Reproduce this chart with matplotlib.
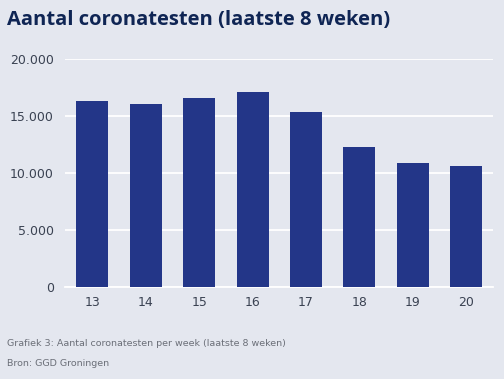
import matplotlib.pyplot as plt
from matplotlib.ticker import FuncFormatter

# --- data ---
weeks = ["13", "14", "15", "16", "17", "18", "19", "20"]
tests = [16310, 16020, 16550, 17100, 15320, 12310, 10880, 10650]
yticks = [0, 5000, 10000, 15000, 20000]

BG = "#e4e7ef"
BAR = "#233688"
NAVY = "#0f2554"
TXT = "#3a4252"

fig = plt.figure(figsize=(5.04, 3.79), dpi=100, facecolor=BG)
ax = fig.add_axes([65 / 504, 1 - 287.3 / 379, (493 - 65) / 504, (287.3 - 59) / 379])
ax.set_facecolor(BG)

x = range(len(weeks))
ax.bar(x, tests, width=0.6, color=BAR, zorder=3)
ax.set_xlim(-0.51, len(weeks) - 0.5)
ax.set_ylim(0, 20000)
ax.set_yticks(yticks)
ax.yaxis.set_major_formatter(FuncFormatter(lambda v, p: f"{int(v):,}".replace(",", ".")))
ax.set_xticks(list(x))
ax.set_xticklabels(weeks)
ax.grid(axis="y", color="white", linewidth=1.3, zorder=1)
ax.set_axisbelow(True)
for s in ax.spines.values():
    s.set_visible(False)
ax.tick_params(length=0, labelsize=9, labelcolor=TXT, pad=8)
ax.tick_params(axis="x", pad=6)
ax.axhline(0, color="white", linewidth=1.3, zorder=2, clip_on=False)

fig.text(7 / 504, 1 - 20 / 379, "Aantal coronatesten (laatste 8 weken)",
         fontsize=14.5, fontweight="bold", color=NAVY, va="center", family="Open Sans")
fig.text(7 / 504, 1 - 343 / 379, "Grafiek 3: Aantal coronatesten per week (laatste 8 weken)",
         fontsize=6.8, color="#6b6f78", va="center")
fig.text(7 / 504, 1 - 364 / 379, "Bron: GGD Groningen",
         fontsize=6.8, color="#6b6f78", va="center")

fig.savefig("out.png", dpi=100, facecolor=BG)
